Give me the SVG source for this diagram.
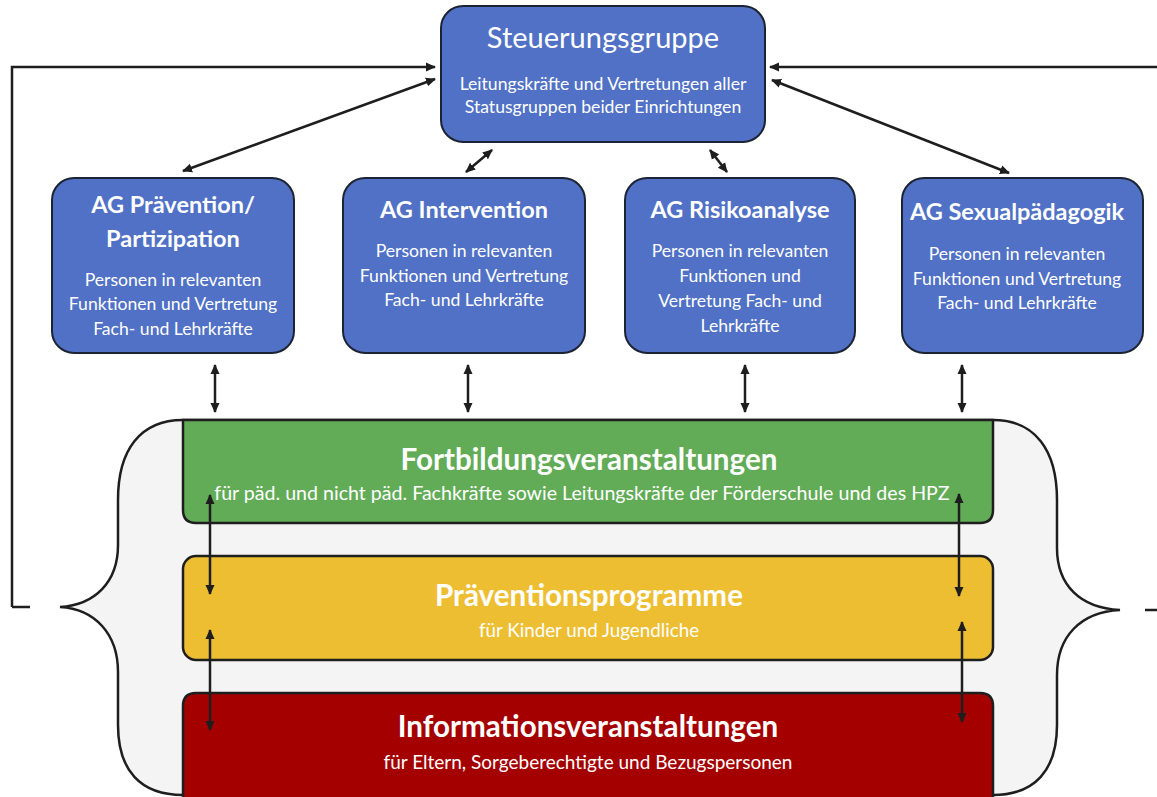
<svg xmlns="http://www.w3.org/2000/svg" width="1157" height="797" viewBox="0 0 1157 797">
<style>
.blue{fill:#5071c5;stroke:#1c2333;stroke-width:2}
.t{font-family:Lato,"Open Sans","Liberation Sans",sans-serif;fill:#ffffff;text-anchor:middle}
.h{font-weight:bold;font-size:23.5px}
.s{font-size:17.6px}
.big{font-weight:bold;font-size:29.6px}
.ln{fill:none;stroke:#1e1e1e;stroke-width:2.5}
.ar{fill:none;stroke:#1e1e1e;stroke-width:2.5;marker-end:url(#ah)}
.dar{fill:none;stroke:#1e1e1e;stroke-width:2.5;marker-start:url(#ahs);marker-end:url(#ah)}
</style>
<defs>
<marker id="ah" viewBox="0 0 10 10" refX="9" refY="5" markerWidth="10" markerHeight="10" markerUnits="userSpaceOnUse" orient="auto">
<path d="M0,0.5 L10,5 L0,9.5 Z" fill="#1e1e1e"/>
</marker>
<marker id="ahs" viewBox="0 0 10 10" refX="1" refY="5" markerWidth="10" markerHeight="10" markerUnits="userSpaceOnUse" orient="auto">
<path d="M10,0.5 L0,5 L10,9.5 Z" fill="#1e1e1e"/>
</marker>
</defs>
<rect width="1157" height="797" fill="#ffffff"/>

<g id="klammer">
<path d="M183,420 C140,420 118,450 118,500 L118,545 C118,582 95,605 60,607 C95,609 118,634 118,672 L118,725 C118,770 140,795 183,795 L993,795 C1035,795 1057,770 1057,725 L1057,675 C1057,637 1080,612 1120,610 C1080,608 1057,585 1057,548 L1057,500 C1057,450 1035,420 993,420 Z" fill="#f4f4f5" stroke="#1e1e1e" stroke-width="2.5"/>
</g>

<g id="steuerungsgruppe">
<rect class="blue" x="441" y="6" width="324" height="136" rx="22"/>
<text class="t" x="603" y="48" font-size="29">Steuerungsgruppe</text>
<text class="t s" x="603" y="90">Leitungskräfte und Vertretungen aller</text>
<text class="t s" x="603" y="113">Statusgruppen beider Einrichtungen</text>
</g>

<g id="ag-praevention">
<rect class="blue" x="52" y="178" width="242" height="175" rx="22"/>
<text class="t h" x="173" y="213">AG Prävention/</text>
<text class="t h" x="173" y="247">Partizipation</text>
<text class="t s" x="173" y="286">Personen in relevanten</text>
<text class="t s" x="173" y="310">Funktionen und Vertretung</text>
<text class="t s" x="173" y="335">Fach- und Lehrkräfte</text>
</g>

<g id="ag-intervention">
<rect class="blue" x="343" y="178" width="242" height="175" rx="22"/>
<text class="t h" x="464" y="218">AG Intervention</text>
<text class="t s" x="464" y="257">Personen in relevanten</text>
<text class="t s" x="464" y="282">Funktionen und Vertretung</text>
<text class="t s" x="464" y="306">Fach- und Lehrkräfte</text>
</g>

<g id="ag-risikoanalyse">
<rect class="blue" x="625" y="178" width="230" height="175" rx="22"/>
<text class="t h" x="740" y="218">AG Risikoanalyse</text>
<text class="t s" x="740" y="257">Personen in relevanten</text>
<text class="t s" x="740" y="282">Funktionen und</text>
<text class="t s" x="740" y="307">Vertretung Fach- und</text>
<text class="t s" x="740" y="332">Lehrkräfte</text>
</g>

<g id="ag-sexualpaedagogik">
<rect class="blue" x="902" y="178" width="241" height="175" rx="22"/>
<text class="t h" x="1017" y="220">AG Sexualpädagogik</text>
<text class="t s" x="1017" y="260">Personen in relevanten</text>
<text class="t s" x="1017" y="285">Funktionen und Vertretung</text>
<text class="t s" x="1017" y="309">Fach- und Lehrkräfte</text>
</g>

<g id="fortbildung">
<path d="M183,420 L993,420 L993,510 Q993,523 980,523 L196,523 Q183,523 183,510 Z" fill="#62ac57" stroke="#1e1e1e" stroke-width="2.5"/>
<text class="t big" x="589" y="470">Fortbildungsveranstaltungen</text>
<text class="t" x="582" y="500" font-size="19.6">für päd. und nicht päd. Fachkräfte sowie Leitungskräfte der Förderschule und des HPZ</text>
</g>

<g id="praeventionsprogramme">
<rect x="183" y="556" width="810" height="104" rx="13" fill="#eebe32" stroke="#1e1e1e" stroke-width="2.5"/>
<text class="t big" x="589" y="606" fill="#fdf6e0">Präventionsprogramme</text>
<text class="t" x="589" y="637" font-size="18.8">für Kinder und Jugendliche</text>
</g>

<g id="informationsveranstaltungen">
<path d="M183,800 L183,706 Q183,693 196,693 L980,693 Q993,693 993,706 L993,800" fill="#a50000" stroke="#1e1e1e" stroke-width="2.5"/>
<text class="t big" x="588" y="737">Informationsveranstaltungen</text>
<text class="t" x="588" y="769" font-size="19">für Eltern, Sorgeberechtigte und Bezugspersonen</text>
</g>

<g id="connectors">
<path class="ar" d="M12,607 L12,67 L435,67"/>
<path class="ln" d="M12,607 L30,607"/>
<path class="ar" d="M1157,67 L770,67"/>
<path class="ln" d="M1145,610 L1157,610"/>
<path class="dar" d="M183,171 L435,79"/>
<path class="dar" d="M772,80 L1009,173"/>
<path class="dar" d="M466,172 L492,150"/>
<path class="dar" d="M710,150 L727,172"/>
<path class="dar" d="M215,365 L215,412"/>
<path class="dar" d="M468,365 L468,412"/>
<path class="dar" d="M745,365 L745,412"/>
<path class="dar" d="M962,365 L962,412"/>
<path class="dar" d="M210,495 L210,594"/>
<path class="dar" d="M210,630 L210,730"/>
<path class="dar" d="M959,494 L959,596"/>
<path class="dar" d="M962,622 L962,722"/>
</g>
</svg>
